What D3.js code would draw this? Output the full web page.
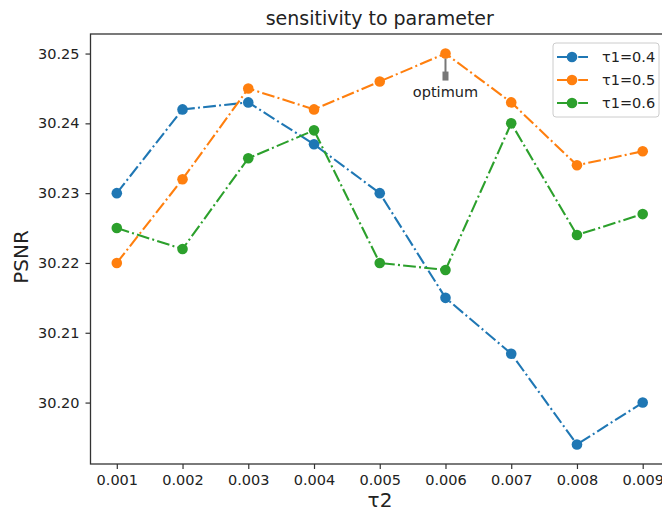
<!DOCTYPE html>
<html>
<head>
<meta charset="utf-8">
<script src="https://cdn.jsdelivr.net/npm/d3@7"></script>
<style>
  body { margin: 0; background: #fff; }
  svg { font-family: "DejaVu Sans", sans-serif; }
</style>
</head>
<body>
<div class="chartBox"></div>
<script>
    var tau2 = [0.001, 0.002, 0.003, 0.004, 0.005, 0.006, 0.007, 0.008, 0.009];
    var tau1Labels = ['τ1=0.4', 'τ1=0.5', 'τ1=0.6'];
    var psnr04 = [30.230, 30.242, 30.243, 30.237, 30.230, 30.215, 30.207, 30.194, 30.200];
    var psnr05 = [30.220, 30.232, 30.245, 30.242, 30.246, 30.250, 30.243, 30.234, 30.236];
    var psnr06 = [30.225, 30.222, 30.235, 30.239, 30.220, 30.219, 30.240, 30.224, 30.227];
    var yTicks = [30.20, 30.21, 30.22, 30.23, 30.24, 30.25];
    var optimum = {x: 0.006, y: 30.250, text: 'optimum'};

    var colors = ['#1f77b4', '#ff7f0e', '#2ca02c'];
    var series = [psnr04, psnr05, psnr06];

    var w = 662, h = 513;
    var padL = 90.5, padR = 669, padT = 34, padB = 464;

    var canvas = d3.select('.chartBox')
      .append('svg')
      .attr('width', w)
      .attr('height', h);

    // matplotlib-like 5% margins
    var xs = d3.scaleLinear().domain([0.0006, 0.0094]).range([padL, padR]);
    var ys = d3.scaleLinear().domain([30.1912, 30.2528]).range([padB, padT]);

    // axes
    var xAxis = d3.axisBottom(xs).tickValues(tau2).tickFormat(d3.format('.3f')).tickSize(5).tickPadding(6);
    var yAxis = d3.axisLeft(ys).tickValues(yTicks).tickFormat(d3.format('.2f')).tickSize(5).tickPadding(6);

    var gx = canvas.append('g').attr('transform', 'translate(0,' + padB + ')').call(xAxis);
    var gy = canvas.append('g').attr('transform', 'translate(' + padL + ',0)').call(yAxis);
    [gx, gy].forEach(function(g){
      g.select('.domain').remove();
      g.selectAll('.tick line').attr('stroke', '#333').attr('stroke-width', 1.2);
      g.selectAll('.tick text').attr('fill', '#222').style('font-size', '14.5px')
        .style('font-family', '"DejaVu Sans", sans-serif');
    });

    // frame, right edge falls off the canvas
    canvas.append('rect')
      .attr('x', padL).attr('y', padT)
      .attr('width', padR - padL).attr('height', padB - padT)
      .attr('fill', 'none')
      .attr('stroke', '#333')
      .attr('stroke-width', 1.3);

    var line = d3.line()
      .x(function(d, i){ return xs(tau2[i]); })
      .y(function(d){ return ys(d); });

    var dash = '12.8,3.2,2,3.2';

    series.forEach(function(s, k){
      canvas.append('path')
        .datum(s)
        .attr('d', line)
        .attr('fill', 'none')
        .attr('stroke', colors[k])
        .attr('stroke-width', 2.1)
        .attr('stroke-dasharray', dash);
      canvas.selectAll('circle.s' + k)
        .data(s)
        .enter()
        .append('circle')
        .attr('class', 's' + k)
        .attr('cx', function(d, i){ return xs(tau2[i]); })
        .attr('cy', function(d){ return ys(d); })
        .attr('r', 5.3)
        .attr('fill', colors[k]);
    });

    // annotation
    var ax = xs(optimum.x), ay = ys(optimum.y);
    canvas.append('line')
      .attr('x1', ax).attr('y1', ay + 5)
      .attr('x2', ax).attr('y2', ay + 20)
      .attr('stroke', '#777')
      .attr('stroke-width', 2);
    canvas.append('rect')
      .attr('x', ax - 3).attr('y', ay + 18)
      .attr('width', 6).attr('height', 9)
      .attr('fill', '#777');
    canvas.append('text')
      .attr('x', ax).attr('y', ay + 43)
      .attr('text-anchor', 'middle')
      .style('font-size', '14.5px')
      .attr('fill', '#222')
      .text(optimum.text);

    // title and axis labels
    canvas.append('text')
      .attr('x', (padL + padR) / 2).attr('y', 25)
      .attr('text-anchor', 'middle')
      .style('font-size', '19px')
      .attr('fill', '#222')
      .text('sensitivity to parameter');
    canvas.append('text')
      .attr('x', 380).attr('y', 507)
      .attr('text-anchor', 'middle')
      .style('font-size', '20px')
      .attr('fill', '#222')
      .text('τ2');
    canvas.append('text')
      .attr('transform', 'translate(28,' + ((padT + padB) / 2 + 8) + ') rotate(-90)')
      .attr('text-anchor', 'middle')
      .style('font-size', '20px')
      .attr('fill', '#222')
      .text('PSNR');

    // legend
    var lg = canvas.append('g').attr('transform', 'translate(553,43)');
    lg.append('rect')
      .attr('width', 106).attr('height', 74)
      .attr('rx', 3)
      .attr('fill', '#fff')
      .attr('stroke', '#ccc')
      .attr('stroke-width', 1);
    var items = lg.selectAll('g.item')
      .data(tau1Labels)
      .enter()
      .append('g')
      .attr('class', 'item')
      .attr('transform', function(d, i){ return 'translate(0,' + (14 + i * 23) + ')'; });
    items.append('line')
      .attr('x1', 4).attr('x2', 35).attr('y1', 0).attr('y2', 0)
      .attr('stroke', function(d, i){ return colors[i]; })
      .attr('stroke-width', 2.1)
      .attr('stroke-dasharray', dash);
    items.append('circle')
      .attr('cx', 19).attr('cy', 0).attr('r', 5.3)
      .attr('fill', function(d, i){ return colors[i]; });
    items.append('text')
      .attr('x', 49).attr('y', 5)
      .style('font-size', '14.5px')
      .attr('fill', '#222')
      .text(function(d){ return d; });
</script>
</body>
</html>
